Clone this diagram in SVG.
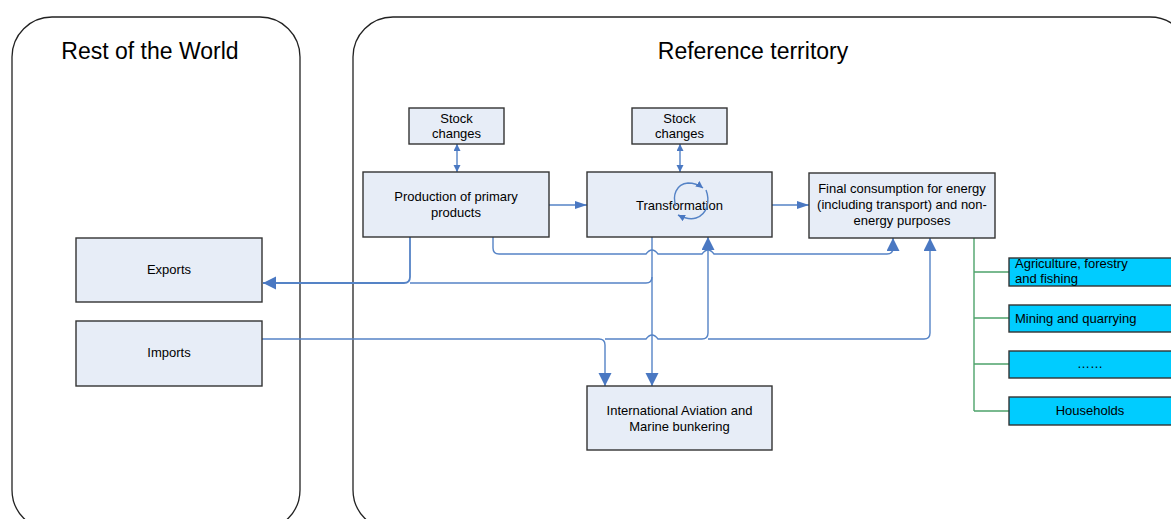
<svg xmlns="http://www.w3.org/2000/svg" width="1171" height="519" viewBox="0 0 1171 519">
<defs>
<style>
.region{fill:#fff;stroke:#222;stroke-width:1.3}
.title{font-family:"Liberation Sans",Arial,sans-serif;font-size:23px;fill:#000;text-anchor:middle}
.box{fill:#e7edf7;stroke:#333;stroke-width:1.4}
.sub{fill:#00ccff;stroke:#333;stroke-width:1.4}
.lbl{font-family:"Liberation Sans",Arial,sans-serif;font-size:13px;fill:#000;text-anchor:middle}
.lbll{font-family:"Liberation Sans",Arial,sans-serif;font-size:13px;fill:#000}
.c{fill:none;stroke:#5583c6;stroke-width:1.4}
.g{fill:none;stroke:#4ea36b;stroke-width:1.4}
</style>
<marker id="big" markerUnits="userSpaceOnUse" markerWidth="14" markerHeight="14" refX="13" refY="6.5" orient="auto"><path d="M0,0 L13,6.5 L0,13 z" fill="#4a78c2"/></marker>
<marker id="sm" markerUnits="userSpaceOnUse" markerWidth="13" markerHeight="9" refX="12" refY="4" orient="auto"><path d="M0,0 L12,4 L0,8 z" fill="#4a78c2"/></marker>
<marker id="tiny" markerUnits="userSpaceOnUse" markerWidth="8" markerHeight="8" refX="7" refY="3.5" orient="auto-start-reverse"><path d="M0,0 L7,3.5 L0,7 z" fill="#4a78c2"/></marker>
</defs>

<g id="rest-of-world">
<rect class="region" x="12" y="17" width="288" height="513" rx="40" ry="40"/>
<text class="title" x="150" y="59">Rest of the World</text>
</g>
<g id="reference-territory">
<rect class="region" x="353" y="17" width="837" height="513" rx="40" ry="40"/>
<text class="title" x="753" y="59">Reference territory</text>
</g>

<g id="connectors">
<path class="c" d="M549 205 H587" marker-end="url(#sm)"/>
<path class="c" d="M772 205 H809" marker-end="url(#sm)"/>
<path class="c" d="M457 144 V172" marker-start="url(#tiny)" marker-end="url(#tiny)"/>
<path class="c" d="M680 144 V172" marker-start="url(#tiny)" marker-end="url(#tiny)"/>
<path class="c" style="stroke-width:1.8" d="M410 237 V277 Q410 283 404 283 H263" marker-end="url(#big)"/>
<path class="c" d="M652 277 Q652 283 646 283 H410"/>
<path class="c" d="M652 237 V386" marker-end="url(#big)"/>
<path class="c" d="M493 237 V248 Q493 254 499 254 H646 Q652 246 658 254 H702 Q708 246 714 254 H887 Q893 254 893 248 V238" marker-end="url(#big)"/>
<path class="c" d="M262 339 H599 Q605 339 605 345 V386" marker-end="url(#big)"/>
<path class="c" d="M605 339 H646 Q652 331 658 339 H702 Q708 339 708 333 V237" marker-end="url(#big)"/>
<path class="c" d="M708 339 H924 Q930 339 930 333 V238" marker-end="url(#big)"/>
<path class="g" d="M974 238 V411 M974 272 H1009 M974 318 H1009 M974 364 H1009 M974 411 H1009"/>
</g>

<g id="stock-changes-1">
<rect class="box" x="409" y="108" width="95" height="36"/>
<text class="lbl" x="456.5" y="123">Stock</text>
<text class="lbl" x="456.5" y="138">changes</text>
</g>
<g id="stock-changes-2">
<rect class="box" x="632" y="108" width="95" height="36"/>
<text class="lbl" x="679.5" y="123">Stock</text>
<text class="lbl" x="679.5" y="138">changes</text>
</g>
<g id="production">
<rect class="box" x="363" y="172" width="186" height="65"/>
<text class="lbl" x="456" y="201">Production of primary</text>
<text class="lbl" x="456" y="217">products</text>
</g>
<g id="transformation">
<rect class="box" x="587" y="172" width="185" height="65"/>
<text class="lbl" x="679.5" y="210">Transformation</text>
<path class="c" d="M676 206 C672 196, 676 184, 688 183 C694 183, 699 185, 703 188" marker-end="url(#tiny)"/>
<path class="c" d="M706 190 C710 200, 708 214, 696 218 C690 220, 684 218, 678 215" marker-end="url(#tiny)"/>
</g>
<g id="final-consumption">
<rect class="box" x="809" y="173" width="186" height="65"/>
<text class="lbl" x="902" y="193">Final consumption for energy</text>
<text class="lbl" x="902" y="209">(including transport) and non-</text>
<text class="lbl" x="902" y="225">energy purposes</text>
</g>
<g id="exports">
<rect class="box" x="76" y="238" width="186" height="64"/>
<text class="lbl" x="169" y="274">Exports</text>
</g>
<g id="imports">
<rect class="box" x="76" y="321" width="186" height="65"/>
<text class="lbl" x="169" y="357">Imports</text>
</g>
<g id="international-bunkers">
<rect class="box" x="587" y="386" width="185" height="64"/>
<text class="lbl" x="679.5" y="415">International Aviation and</text>
<text class="lbl" x="679.5" y="431">Marine bunkering</text>
</g>
<g id="agriculture">
<rect class="sub" x="1009" y="258" width="170" height="28"/>
<text class="lbll" x="1015" y="268">Agriculture, forestry</text>
<text class="lbll" x="1015" y="283">and fishing</text>
</g>
<g id="mining">
<rect class="sub" x="1009" y="305" width="170" height="27"/>
<text class="lbll" x="1015" y="323">Mining and quarrying</text>
</g>
<g id="others">
<rect class="sub" x="1009" y="351" width="170" height="27"/>
<text class="lbl" x="1090" y="368">……</text>
</g>
<g id="households">
<rect class="sub" x="1009" y="397" width="170" height="28"/>
<text class="lbl" x="1090" y="415">Households</text>
</g>
</svg>
